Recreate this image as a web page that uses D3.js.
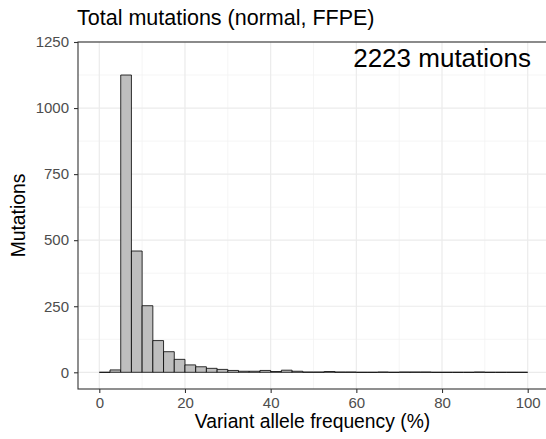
<!DOCTYPE html>
<html>
<head>
<meta charset="utf-8">
<script src="https://cdn.jsdelivr.net/npm/d3@7"></script>
<style>
  html, body { margin: 0; padding: 0; background: #fff; }
  svg { display: block; font-family: "Liberation Sans", Arial, Helvetica, sans-serif; }
</style>
</head>
<body>
<svg id="chart" width="546" height="439"></svg>
<script>
// ---- data ----
const binWidth = 2.5;
const binStarts = [0, 2.5, 5, 7.5, 10, 12.5, 15, 17.5, 20, 22.5, 25, 27.5, 30, 32.5, 35, 37.5,
  40, 42.5, 45, 47.5, 50, 52.5, 55, 57.5, 60, 62.5, 65, 67.5, 70, 72.5, 75, 77.5,
  80, 82.5, 85, 87.5, 90, 92.5, 95, 97.5];
const counts = [0, 9, 1125, 459, 252, 120, 78, 49, 28, 21, 15, 11, 7, 4, 4, 7,
  3, 8, 4, 1, 1, 3, 1, 1, 0, 0, 1, 0, 1, 1, 1, 0,
  0, 0, 0, 1, 0, 0, 0, 0];
const xMajorTicks = [0, 20, 40, 60, 80, 100];
const xMinorTicks = [10, 30, 50, 70, 90];
const yMajorTicks = [0, 250, 500, 750, 1000, 1250];
const yMinorTicks = [125, 375, 625, 875, 1125];
const titleText = "Total mutations (normal, FFPE)";
const annotation = "2223 mutations";
const xTitle = "Variant allele frequency (%)";
const yTitle = "Mutations";

// ---- layout ----
const panel = { left: 78, right: 546, top: 42, bottom: 389 };
const x = d3.scaleLinear().domain([0, 100]).range([99.3, 527.7]);
const y = d3.scaleLinear().domain([0, 1250]).range([372.3, 42]);

const svg = d3.select("#chart");

svg.append("rect")
  .attr("x", panel.left).attr("y", panel.top)
  .attr("width", panel.right - panel.left).attr("height", panel.bottom - panel.top)
  .attr("fill", "#fff");

const grid = svg.append("g");
grid.selectAll(".xminor").data(xMinorTicks).enter().append("line")
  .attr("x1", d => x(d)).attr("x2", d => x(d))
  .attr("y1", panel.top).attr("y2", panel.bottom)
  .attr("stroke", "#f2f2f2").attr("stroke-width", 0.8);
grid.selectAll(".yminor").data(yMinorTicks).enter().append("line")
  .attr("x1", panel.left).attr("x2", panel.right)
  .attr("y1", d => y(d)).attr("y2", d => y(d))
  .attr("stroke", "#f2f2f2").attr("stroke-width", 0.8);
grid.selectAll(".xmajor").data(xMajorTicks).enter().append("line")
  .attr("x1", d => x(d)).attr("x2", d => x(d))
  .attr("y1", panel.top).attr("y2", panel.bottom)
  .attr("stroke", "#ebebeb").attr("stroke-width", 1.2);
grid.selectAll(".ymajor").data(yMajorTicks).enter().append("line")
  .attr("x1", panel.left).attr("x2", panel.right)
  .attr("y1", d => y(d)).attr("y2", d => y(d))
  .attr("stroke", "#ebebeb").attr("stroke-width", 1.2);

// bars (drawn as closed paths so zero-count bins still show their outline)
const bins = binStarts.map((s, i) => ({ x0: s, x1: s + binWidth, n: counts[i] }));
svg.append("g").selectAll("path").data(bins).enter().append("path")
  .attr("d", d => `M${x(d.x0)},${y(0)}H${x(d.x1)}V${y(d.n)}H${x(d.x0)}Z`)
  .attr("fill", "#bebebe")
  .attr("stroke", "#000")
  .attr("stroke-width", 0.8);

// panel border
svg.append("rect")
  .attr("x", panel.left).attr("y", panel.top)
  .attr("width", panel.right - panel.left + 5).attr("height", panel.bottom - panel.top)
  .attr("fill", "none").attr("stroke", "#333").attr("stroke-width", 1.1);

// axes
const xAxis = d3.axisBottom(x).tickValues(xMajorTicks).tickSize(4).tickPadding(4).tickFormat(d3.format("d"));
const gx = svg.append("g").attr("transform", `translate(0,${panel.bottom})`).call(xAxis);
gx.select(".domain").remove();
gx.selectAll(".tick line").attr("stroke", "#333").attr("stroke-width", 1.1);
gx.selectAll(".tick text").attr("fill", "#4d4d4d").attr("font-size", 15)
  .attr("font-family", "\"Liberation Sans\", Arial, sans-serif");

const yAxis = d3.axisLeft(y).tickValues(yMajorTicks).tickSize(4).tickPadding(5).tickFormat(d3.format("d"));
const gy = svg.append("g").attr("transform", `translate(${panel.left},0)`).call(yAxis);
gy.select(".domain").remove();
gy.selectAll(".tick line").attr("stroke", "#333").attr("stroke-width", 1.1);
gy.selectAll(".tick text").attr("fill", "#4d4d4d").attr("font-size", 15)
  .attr("font-family", "\"Liberation Sans\", Arial, sans-serif");

// title
svg.append("text").attr("x", 77).attr("y", 25)
  .attr("font-size", 21.5).attr("fill", "#000").text(titleText);

// annotation
svg.append("text").attr("x", 531).attr("y", 67).attr("text-anchor", "end")
  .attr("font-size", 26).attr("fill", "#000").text(annotation);

// axis titles
svg.append("text").attr("x", 312.5).attr("y", 428)
  .attr("text-anchor", "middle").attr("font-size", 19.3).attr("fill", "#000").text(xTitle);
svg.append("text")
  .attr("transform", `translate(25,${(panel.top + panel.bottom) / 2}) rotate(-90)`)
  .attr("text-anchor", "middle").attr("font-size", 19.3).attr("fill", "#000").text(yTitle);
</script>
</body>
</html>
